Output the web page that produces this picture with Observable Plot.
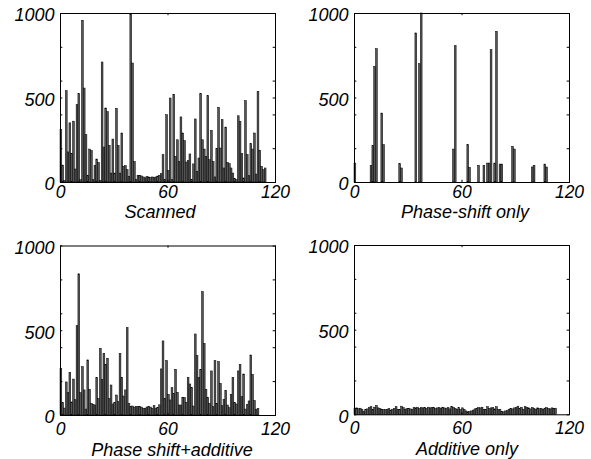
<!DOCTYPE html>
<html>
<head>
<meta charset="utf-8">
<script src="https://cdn.jsdelivr.net/npm/d3@7"></script>
<script src="https://cdn.jsdelivr.net/npm/@observablehq/plot@0.6"></script>
<style>
  html, body { margin: 0; padding: 0; background: #fff; }
  #wrap { position: relative; width: 591px; height: 459px; overflow: hidden; }
  #wrap > svg { position: absolute; }
</style>
</head>
<body>
<div id="wrap"></div>
<script>
// ---- data (bin index -> count) ----
const scannedCounts = [310,100,10,540,178,350,168,360,77,458,523,14,957,556,280,40,195,187,14,99,136,116,10,710,207,438,416,217,53,254,53,436,217,53,290,93,97,73,34,994,704,122,14,40,38,36,30,25,32,30,28,30,27,30,35,40,49,162,14,398,69,497,14,519,152,250,122,385,290,245,118,126,166,14,107,373,63,142,523,250,195,152,511,132,306,122,30,199,442,201,369,83,325,116,108,83,53,20,14,392,359,168,24,481,162,37,227,195,290,47,537,187,93,73,83];

const phaseBins   = [0,9,10,11,12,15,16,25,26,34,36,37,55,56,63,64,69,72,74,75,76,78,79,81,82,88,89,99,100,106,107];
const phaseCounts = [112,99,215,684,789,408,221,108,83,882,700,1000,195,807,221,87,99,99,112,112,783,112,892,106,106,211,195,89,99,106,89];

const phaseAddCounts = [276,73,41,195,132,252,77,212,90,527,833,132,285,148,35,325,152,69,63,59,222,98,394,211,364,299,335,98,177,65,75,118,79,364,222,112,148,516,69,49,53,47,49,49,49,47,40,40,47,49,47,40,55,40,45,60,272,437,98,321,122,89,161,128,270,134,59,59,102,104,75,222,183,163,53,478,350,222,270,728,423,152,104,69,260,49,321,69,315,187,55,93,144,59,43,122,222,73,65,260,299,108,242,35,63,83,354,240,85,33,39];

const additiveCounts = [35,38,33,36,30,18,28,32,40,45,30,42,52,38,33,30,28,28,30,33,25,30,35,45,30,28,48,40,30,33,35,32,30,40,38,42,35,40,38,40,36,42,38,40,40,35,38,40,36,42,38,35,40,32,45,42,35,30,40,28,38,30,20,15,18,20,25,32,35,40,38,42,30,28,45,35,38,40,32,45,28,30,18,15,20,22,30,35,32,38,40,48,35,42,30,45,40,38,32,40,35,30,38,33,35,30,36,40,35,32,38,35,36];

const xTickValues = [0, 60, 120];
const yTickValues = [0, 500, 1000];
const yMinorTicks = [200, 400, 600, 800];
const titles = ["Scanned", "Phase-shift only", "Phase shift+additive", "Additive only"];

const seq = counts => counts.map((c, i) => ({bin: i, count: c}));
const pairs = (bins, counts) => bins.map((b, i) => ({bin: b, count: counts[i]}));

const panels = [
  {data: seq(scannedCounts),  title: titles[0], left: 0,   top: 0,   width: 295, height: 229, mt: 13,   mb: 47,   ml: 60, tp: 3.5, ty: 30, tx: -8},
  {data: pairs(phaseBins, phaseCounts), title: titles[1], left: 295, top: 0, width: 296, height: 229, mt: 13, mb: 47, ml: 59, tp: 3.5, ty: 30, tx: 3},
  {data: seq(phaseAddCounts), title: titles[2], left: 0,   top: 229, width: 295, height: 230, mt: 16.5, mb: 44,   ml: 60, tp: 7,   ty: 34.5, tx: 4},
  {data: seq(additiveCounts), title: titles[3], left: 295, top: 229, width: 296, height: 230, mt: 16,   mb: 44.7, ml: 59, tp: 7,   ty: 34, tx: 5}
];

const wrap = document.getElementById("wrap");
for (const p of panels) {
  const svg = Plot.plot({
    width: p.width,
    height: p.height,
    marginLeft: p.ml,
    marginRight: p.width - p.ml - 215,
    marginTop: p.mt,
    marginBottom: p.mb,
    style: {fontFamily: "'Liberation Sans', Arial, Helvetica, sans-serif", fontSize: "18px", fontStyle: "italic", color: "#000", background: "#fff"},
    x: {domain: [0, 120], axis: null},
    y: {domain: [0, 1000], axis: null},
    marks: [
      Plot.rectY(p.data, {x1: "bin", x2: d => d.bin + 1, y: "count", fill: "#555", stroke: "#000", strokeWidth: 0.5}),
      // inward ticks
      Plot.ruleY(yTickValues.concat(yMinorTicks), {x1: 0, x2: 1.3, stroke: "#000"}),
      Plot.ruleY(yTickValues.concat(yMinorTicks), {x1: 118.7, x2: 120, stroke: "#000"}),
      Plot.ruleX(xTickValues, {y1: 0, y2: 13, stroke: "#000"}),
      Plot.ruleX(xTickValues, {y1: 987, y2: 1000, stroke: "#000"}),
      Plot.frame({stroke: "#000", strokeWidth: 1}),
      Plot.axisX({ticks: xTickValues, tickSize: 0, tickPadding: p.tp, tickFormat: d => String(d), label: null, fontSize: 17.5}),
      Plot.axisY({ticks: yTickValues, tickSize: 0, tickPadding: 6, dy: 2, tickFormat: d => String(d), label: null, fontSize: 18}),
      Plot.text([p.title], {frameAnchor: "bottom", lineAnchor: "middle", dx: p.tx, dy: p.ty, fontSize: 18, fontStyle: "italic", fill: "#000"})
    ]
  });
  svg.style.left = p.left + "px";
  svg.style.top = p.top + "px";
  wrap.appendChild(svg);
}
</script>
</body>
</html>
